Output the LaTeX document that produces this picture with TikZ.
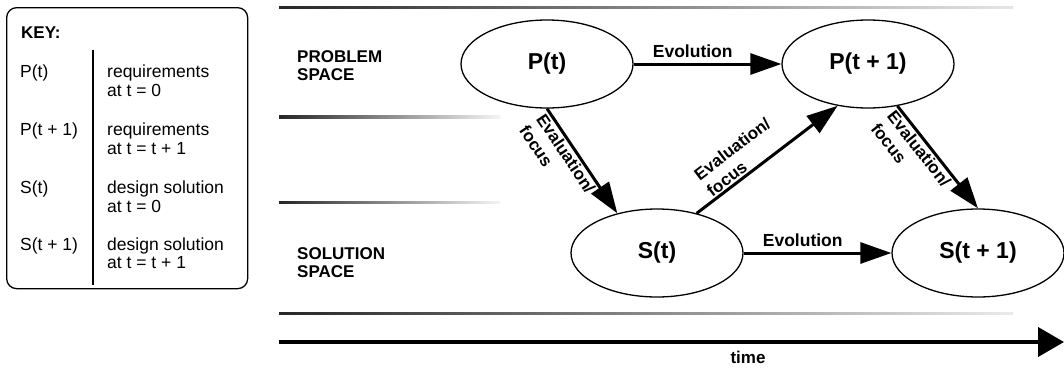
\documentclass[tikz,border=0pt]{standalone}
\usepackage{fontspec}
\setmainfont{Liberation Sans}
\usetikzlibrary{shapes.geometric, arrows.meta}

\begin{document}
\begin{tikzpicture}[x=1pt, y=-1pt,
  keytext/.style={anchor=base west, inner sep=0pt, font=\fontsize{17.5}{19}\selectfont},
  keyhead/.style={anchor=base west, inner sep=0pt, font=\bfseries\fontsize{17}{19}\selectfont},
  spacelbl/.style={anchor=base west, inner sep=0pt, font=\bfseries\fontsize{17}{19}\selectfont},
  state/.style={ellipse, draw, line width=1.3pt, minimum width=172pt, minimum height=88pt, inner sep=0pt, font=\bfseries\fontsize{23}{25}\selectfont},
  flow/.style={line width=3pt, -{Triangle[length=31pt, width=21pt]}},
  edgelbl/.style={font=\bfseries\fontsize{17.5}{18}\selectfont},
  evallbl/.style={sloped, align=left, inner sep=1.5pt, font=\bfseries\fontsize{17}{20.5}\selectfont},
  keyframe/.style={draw, line width=1.3pt, rounded corners=10pt, anchor=north west, minimum width=241pt, minimum height=281pt, inner sep=0pt}
]
\useasboundingbox (0,0) rectangle (1064,367);

% ---------- key ----------
\node[keyframe] (key) at (6,7) {};
\node[keyhead] (keytitle) at (21,38) {KEY:};
\coordinate (kvtop) at (93,50);
\coordinate (kvbot) at (93,285);
\draw[line width=1.2pt] (kvtop) -- (kvbot);

\node[keytext] (k1) at (20,77) {P(t)};
\node[keytext] (k1a) at (107,77) {requirements};
\node[keytext] (k1b) at (107,96) {at t = 0};
\node[keytext] (k2) at (20,135) {P(t + 1)};
\node[keytext] (k2a) at (107,135) {requirements};
\node[keytext] (k2b) at (107,154) {at t = t + 1};
\node[keytext] (k3) at (20,193) {S(t)};
\node[keytext] (k3a) at (107,193) {design solution};
\node[keytext] (k3b) at (107,212) {at t = 0};
\node[keytext] (k4) at (20,250) {S(t + 1)};
\node[keytext] (k4a) at (107,250) {design solution};
\node[keytext] (k4b) at (107,268) {at t = t + 1};

% ---------- fading separator lines ----------
\shade[left color=black!85, right color=black!10] (279,6) rectangle (1013,8.4);
\shade[left color=black!85, right color=black!4] (279,115.5) rectangle (500,118.6);
\shade[left color=black!85, right color=black!4] (279,201) rectangle (500,203.5);
\shade[left color=black!85, right color=black!8] (279,312) rectangle (1013,314.5);

% ---------- space labels ----------
\node[spacelbl] (prob1) at (297,62) {PROBLEM};
\node[spacelbl] (prob2) at (297,80) {SPACE};
\node[spacelbl] (sol1) at (297,259) {SOLUTION};
\node[spacelbl] (sol2) at (297,277) {SPACE};

% ---------- states ----------
\node[state] (P0) at (547,64) {P(t)};
\node[state] (P1) at (868,64) {P(t + 1)};
\node[state] (S0) at (657,253) {S(t)};
\node[state] (S1) at (978,253) {S(t + 1)};

% ---------- connectors ----------
\draw[flow] (P0) -- (P1) node[pos=0.4, anchor=base, yshift=7pt, edgelbl] (evo1) {Evolution};
\draw[flow] (S0) -- (S1) node[pos=0.4, anchor=base, yshift=7pt, edgelbl] (evo2) {Evolution};
\draw[flow] (P0.south) -- (S0.135) node[pos=0.38, below, evallbl] (ev1) {Evaluation/\\focus};
\draw[flow] (S0.45) -- (P1.234) node[pos=0.38, above, evallbl] (ev2) {Evaluation/\\focus};
\draw[flow] (P1.305) -- (S1.north) node[pos=0.36, below, evallbl] (ev3) {Evaluation/\\focus};

% ---------- time axis ----------
\coordinate (t0) at (279,342);
\coordinate (t1) at (1064,342);
\draw[line width=4pt, -{Triangle[length=26pt, width=29pt]}] (t0) -- (t1);
\node[anchor=base, inner sep=0pt, font=\bfseries\fontsize{17}{19}\selectfont] (timelbl) at (748,363) {time};
\end{tikzpicture}
\end{document}
